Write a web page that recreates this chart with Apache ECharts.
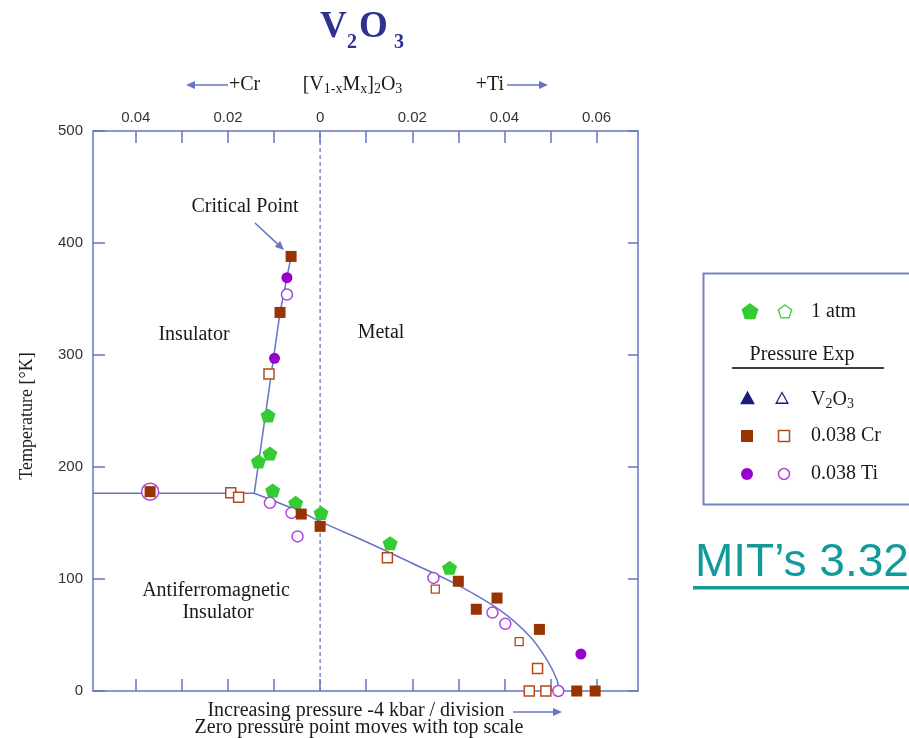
<!DOCTYPE html>
<html><head><meta charset="utf-8">
<script src="https://cdn.jsdelivr.net/npm/echarts@6/dist/echarts.min.js"></script>
<style>html,body{margin:0;padding:0;background:#fff}#c{width:909px;height:738px}</style>
</head><body><div id="c"></div>
<script>
// ---- axis ranges / ticks ----
const X_MIN = -0.0493, X_MAX = 0.069;
const xTickValues = [-0.04,-0.03,-0.02,-0.01,0,0.01,0.02,0.03,0.04,0.05,0.06];
const xLabelValues = [-0.04,-0.02,0,0.02,0.04,0.06];
const yMin = 0, yMax = 500, yStep = 100;

// ---- 1 atm (filled pentagons) ----
const atmX = [-0.0113,-0.0109,-0.0134,-0.0103,-0.0053,0.0002,0.0152,0.0281];
const atmT = [246,212,205,179,168,159,132,110];

// ---- 0.038 Cr ----
const crFilledX = [-0.0063,-0.0087,-0.0369,-0.0041,0.0000,0.0300,0.0384,0.0339,0.0476,0.0557,0.0597];
const crFilledT = [388,338,178,158,147,98,83,73,55,0,0];
const crOpenX = [-0.0111,-0.0194,-0.0177,0.0146,0.0472,0.0454,0.0490];
const crOpenT = [283,177,173,119,20,0,0];
const crOpenSmallX = [0.0250,0.0432];
const crOpenSmallT = [91,44];

// ---- 0.038 Ti ----
const tiFilledX = [-0.0072,-0.0099,0.0566];
const tiFilledT = [369,297,33];
const tiOpenX = [-0.0072,-0.0109,-0.0062,-0.0049,0.0246,0.0374,0.0402,0.0517];
const tiOpenT = [354,168,159,138,101,70,60,0];
const tiOpenLargeX = [-0.0369];
const tiOpenLargeT = [178];

// ---- phase boundaries ----
const firstOrderX = [-0.0063,-0.0087,-0.0143];
const firstOrderT = [388,338,176.5];
const afmHorizX = [X_MIN,-0.0143];
const afmHorizT = [176.5,176.5];
const afmCurveX = [-0.0143,-0.0043,0.0002,0.0101,0.0195,0.0297,0.0391,0.0456,0.0492,0.0514,0.0518];
const afmCurveT = [176.5,160,151,133,115,95,72,48.5,28,10,0];
const zeroLineX = [0,0];
const zeroLineT = [0,500];

const zip = (xs, ys) => xs.map((x, i) => [x, ys[i]]);

const BLUE = '#6674c4';
const GREEN = '#33cc33';
const BROWN = '#993300';
const BROWN_OPEN = '#b44a1c';
const PURPLE = '#9900cc';
const PURPLE_OPEN = '#a848dc';
const NAVY = '#1c1c7c';
const PENT = 'path://M0,-10L9.511,-3.090L5.878,8.090L-5.878,8.090L-9.511,-3.090Z';
const SERIF = '"Liberation Serif", "DejaVu Serif", serif';

function lineSeries(xs, ys, extra) {
  return Object.assign({
    type: 'line', data: zip(xs, ys), symbol: 'none', silent: true, z: 1,
    lineStyle: { color: BLUE, width: 1.5 }
  }, extra || {});
}
function scatter(xs, ys, symbol, size, itemStyle) {
  return { type: 'scatter', data: zip(xs, ys), symbol, symbolSize: size, itemStyle: Object.assign({ opacity: 1 }, itemStyle), z: 3, silent: true };
}

function txt(x, y, text, opt) {
  const st = Object.assign({ text, fill: '#1a1a1a', font: '20px ' + SERIF, align: 'center', verticalAlign: 'middle' }, opt || {});
  st.textAlign = st.align; st.textVerticalAlign = st.verticalAlign;
  return { type: 'text', x, y, silent: true, style: st, z: 100 };
}
function arrow(x1, y1, x2, y2, color) {
  const a = Math.atan2(y2 - y1, x2 - x1), L = 9, W = 4;
  const bx = x2 - L * Math.cos(a), by = y2 - L * Math.sin(a);
  const px = -Math.sin(a) * W, py = Math.cos(a) * W;
  return [
    { type: 'line', silent: true, z: 100, shape: { x1, y1, x2: bx, y2: by }, style: { stroke: color, lineWidth: 1.5 } },
    { type: 'polygon', silent: true, z: 100, shape: { points: [[x2, y2], [bx + px, by + py], [bx - px, by - py]] }, style: { fill: color } }
  ];
}
function pentagon(cx, cy, r, fill, stroke) {
  const pts = [];
  for (let k = 0; k < 5; k++) { const ang = -Math.PI / 2 + k * 2 * Math.PI / 5; pts.push([cx + r * Math.cos(ang), cy + r * Math.sin(ang)]); }
  return { type: 'polygon', silent: true, z: 100, shape: { points: pts }, style: { fill, stroke, lineWidth: 1.5 } };
}
function tri(cx, cy, r, fill, stroke) {
  return { type: 'polygon', silent: true, z: 100, shape: { points: [[cx, cy - r], [cx + r * 0.9, cy + r * 0.65], [cx - r * 0.9, cy + r * 0.65]] }, style: { fill, stroke, lineWidth: 1.3 } };
}

const graphics = [
  // title V2O3
  txt(320, 27, 'V', { font: 'bold 37px ' + SERIF, fill: '#2e3192', align: 'left' }),
  txt(347, 43, '2', { font: 'bold 20px ' + SERIF, fill: '#2e3192', align: 'left' }),
  txt(359, 27, 'O', { font: 'bold 37px ' + SERIF, fill: '#2e3192', align: 'left' }),
  txt(394, 43, '3', { font: 'bold 20px ' + SERIF, fill: '#2e3192', align: 'left' }),
  // top composition label
  ...arrow(228, 85, 186, 85, BLUE),
  txt(229, 85, '+Cr', { align: 'left' }),
  { type: 'text', x: 352.5, y: 85, silent: true, z: 100, style: {
      text: '{n|[V}{s|1-x}{n|M}{s|x}{n|]}{s|2}{n|O}{s|3}', align: 'center', verticalAlign: 'middle', textAlign: 'center', textVerticalAlign: 'middle',
      rich: { n: { fontSize: 20, fontFamily: SERIF, lineHeight: 22, fill: '#1a1a1a', color: '#1a1a1a' },
              s: { fontSize: 14, fontFamily: SERIF, lineHeight: 12, verticalAlign: 'bottom', fill: '#1a1a1a', color: '#1a1a1a' } } } },
  txt(504, 85, '+Ti', { align: 'right' }),
  ...arrow(507, 85, 548, 85, BLUE),
  // region labels
  txt(245, 207, 'Critical Point'),
  ...arrow(255, 223, 284, 250, BLUE),
  txt(194, 335, 'Insulator'),
  txt(381, 333, 'Metal'),
  txt(216, 591, 'Antiferromagnetic'),
  txt(218, 613, 'Insulator'),
  // y axis name
  { type: 'text', x: 27, y: 416, rotation: Math.PI / 2, silent: true, z: 100,
    style: { text: 'Temperature [°K]', font: '18px ' + SERIF, fill: '#1a1a1a', align: 'center', verticalAlign: 'middle', textAlign: 'center', textVerticalAlign: 'middle' } },
  // bottom notes
  txt(356, 711, 'Increasing pressure -4 kbar / division'),
  ...arrow(513, 712, 562, 712, BLUE),
  txt(359, 728, 'Zero pressure point moves with top scale'),
  // legend box
  { type: 'rect', silent: true, z: 90, shape: { x: 703.5, y: 273.5, width: 230, height: 231 }, style: { fill: '#fff', stroke: '#7482c8', lineWidth: 2 } },
  pentagon(750, 312, 8, GREEN, GREEN),
  pentagon(785, 312, 7, '#fff', '#55d055'),
  txt(811, 312, '1 atm', { align: 'left' }),
  txt(802, 355, 'Pressure Exp'),
  { type: 'line', silent: true, z: 100, shape: { x1: 732, y1: 368, x2: 884, y2: 368 }, style: { stroke: '#000', lineWidth: 1.5 } },
  tri(747.5, 399, 7, NAVY, NAVY),
  tri(782, 399, 6.5, '#fff', NAVY),
  { type: 'text', x: 811, y: 400, silent: true, z: 100, style: {
      text: '{n|V}{s|2}{n|O}{s|3}', align: 'left', verticalAlign: 'middle', textAlign: 'left', textVerticalAlign: 'middle',
      rich: { n: { fontSize: 20, fontFamily: SERIF, lineHeight: 22, fill: '#1a1a1a', color: '#1a1a1a' },
              s: { fontSize: 14, fontFamily: SERIF, lineHeight: 12, verticalAlign: 'bottom', fill: '#1a1a1a', color: '#1a1a1a' } } } },
  { type: 'rect', silent: true, z: 100, shape: { x: 741, y: 430, width: 12, height: 12 }, style: { fill: BROWN } },
  { type: 'rect', silent: true, z: 100, shape: { x: 778.5, y: 430.5, width: 11, height: 11 }, style: { fill: '#fff', stroke: BROWN_OPEN, lineWidth: 1.5 } },
  txt(811, 436, '0.038 Cr', { align: 'left' }),
  { type: 'circle', silent: true, z: 100, shape: { cx: 747, cy: 474, r: 6 }, style: { fill: PURPLE } },
  { type: 'circle', silent: true, z: 100, shape: { cx: 784, cy: 474, r: 5.5 }, style: { fill: '#fff', stroke: PURPLE_OPEN, lineWidth: 1.5 } },
  txt(811, 474, '0.038 Ti', { align: 'left' }),
  // MIT link text
  txt(695, 563, 'MIT\u2019s 3.32', { font: '46px "Liberation Sans", Arial, sans-serif', fill: '#129a9a', align: 'left' }),
  { type: 'rect', silent: true, z: 100, shape: { x: 693, y: 586, width: 230, height: 3.5 }, style: { fill: '#129a9a' } }
];

const fmtX = v => Math.abs(v) < 1e-9 ? '0' : Math.abs(v).toFixed(2);
const tickStyle = { color: BLUE, width: 1.5 };

const option = {
  animation: false,
  backgroundColor: '#fff',
  grid: { left: 93, top: 131, width: 545, height: 560, show: true, borderColor: BLUE, borderWidth: 1.5, backgroundColor: 'transparent', containLabel: false, outerBoundsMode: 'none' },
  xAxis: [
    { type: 'value', position: 'top', min: X_MIN, max: X_MAX,
      axisLine: { show: false, onZero: false }, splitLine: { show: false },
      axisTick: { show: true, inside: true, length: 12, lineStyle: tickStyle, customValues: xTickValues },
      axisLabel: { show: true, margin: 6, color: '#333', fontSize: 15, fontFamily: '"Liberation Sans", Arial, sans-serif', formatter: fmtX, customValues: xLabelValues } },
    { type: 'value', position: 'bottom', min: X_MIN, max: X_MAX,
      axisLine: { show: false, onZero: false }, splitLine: { show: false },
      axisTick: { show: true, inside: true, length: 12, lineStyle: tickStyle, customValues: xTickValues },
      axisLabel: { show: false } }
  ],
  yAxis: [
    { type: 'value', position: 'left', min: yMin, max: yMax, interval: yStep,
      axisLine: { show: false, onZero: false }, splitLine: { show: false },
      axisTick: { show: true, inside: true, length: 12, lineStyle: tickStyle },
      axisLabel: { margin: 10, color: '#333', fontSize: 15, fontFamily: '"Liberation Sans", Arial, sans-serif' } },
    { type: 'value', position: 'right', min: yMin, max: yMax, interval: yStep,
      axisLine: { show: false, onZero: false }, splitLine: { show: false },
      axisTick: { show: true, inside: true, length: 10, lineStyle: tickStyle },
      axisLabel: { show: false } }
  ],
  series: [
    lineSeries(zeroLineX, zeroLineT, { lineStyle: { color: BLUE, width: 1.3, type: [4, 3] } }),
    lineSeries(afmHorizX, afmHorizT),
    lineSeries(firstOrderX, firstOrderT),
    lineSeries(afmCurveX, afmCurveT, { smooth: 0.35 }),
    scatter(tiOpenLargeX, tiOpenLargeT, 'circle', 17, { color: '#fff', borderColor: PURPLE_OPEN, borderWidth: 1.5 }),
    scatter(atmX, atmT, PENT, [15, 14], { color: GREEN }),
    scatter(tiOpenX, tiOpenT, 'circle', 11, { color: '#fff', borderColor: PURPLE_OPEN, borderWidth: 1.5 }),
    scatter(crOpenX, crOpenT, 'rect', 10, { color: '#fff', borderColor: BROWN_OPEN, borderWidth: 1.5 }),
    scatter(crOpenSmallX, crOpenSmallT, 'rect', 8, { color: '#fff', borderColor: BROWN_OPEN, borderWidth: 1.3 }),
    scatter(crFilledX, crFilledT, 'rect', 11, { color: BROWN }),
    scatter(tiFilledX, tiFilledT, 'circle', 11, { color: PURPLE })
  ],
  graphic: { elements: graphics }
};

const chart = echarts.init(document.getElementById('c'), null, { renderer: 'canvas' });
chart.setOption(option);
</script></body></html>
